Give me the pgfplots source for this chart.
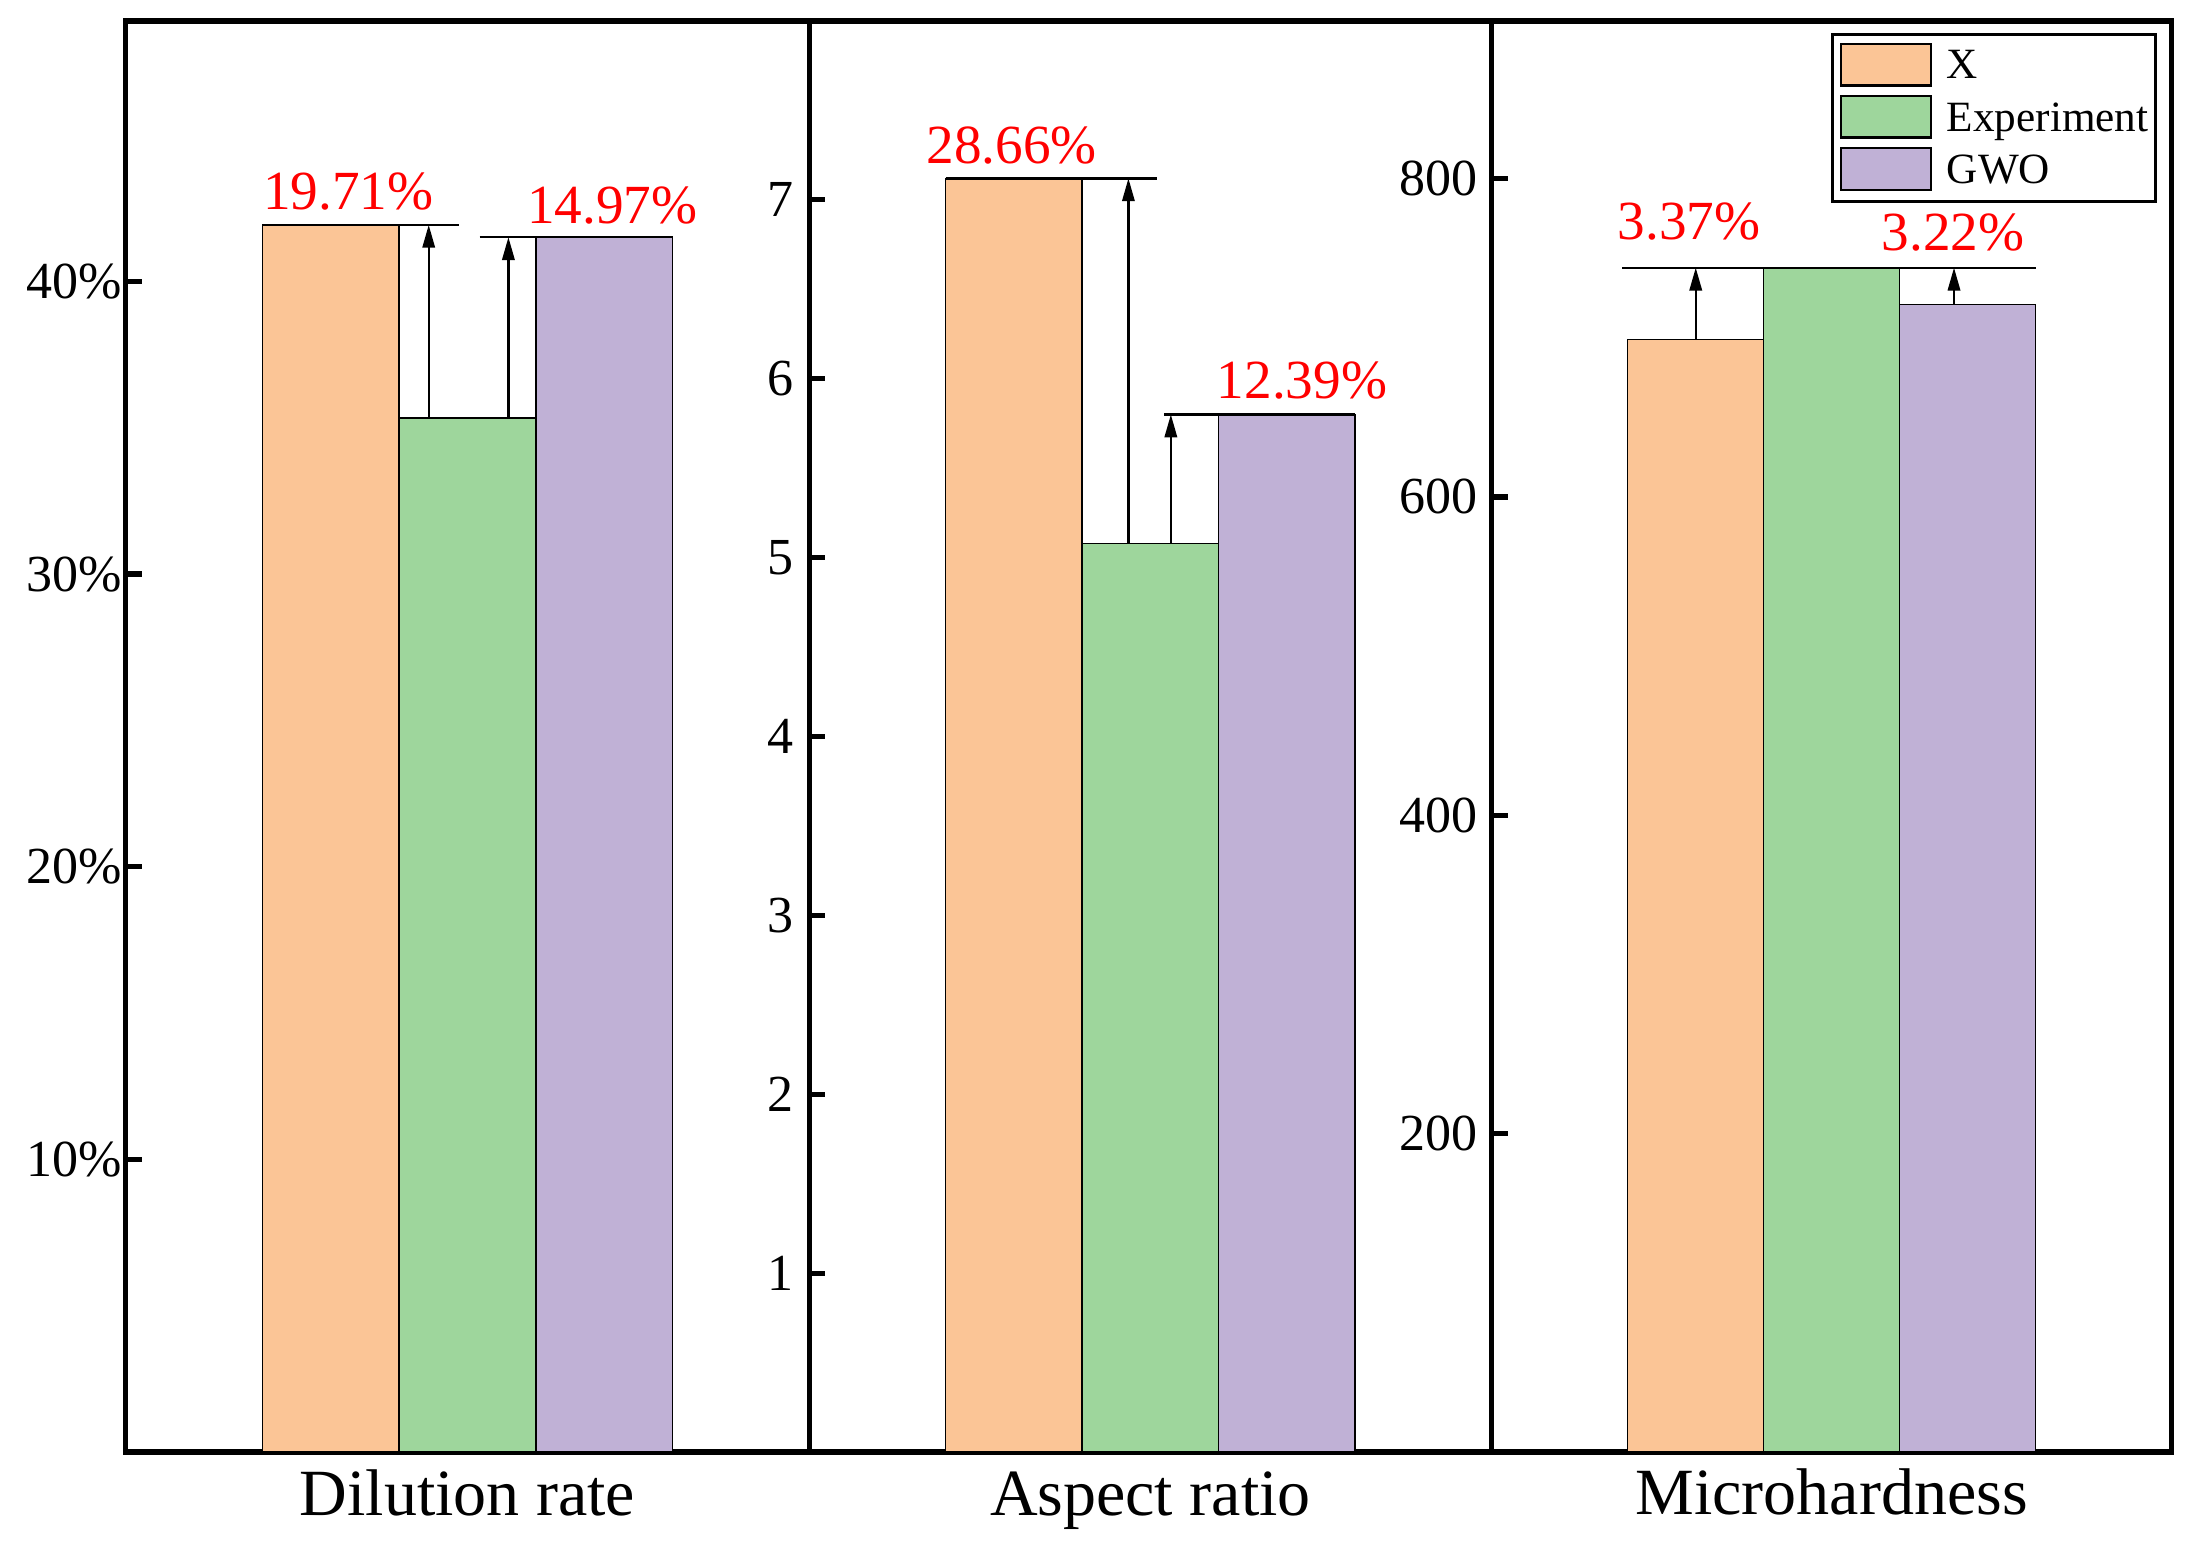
\documentclass[border=0pt]{standalone}
\usepackage{fontspec}
\setmainfont{Liberation Serif}
\usepackage{pgfplots}
\pgfplotsset{compat=1.18}
\usetikzlibrary{arrows.meta}
\definecolor{cX}{RGB}{251,197,150}
\definecolor{cE}{RGB}{158,214,156}
\definecolor{cG}{RGB}{192,177,214}
\tikzset{
  ann/.style={line width=0.55pt, black},
  arr/.style={line width=0.55pt, black, -{Triangle[length=5.7pt,width=3.1pt]}},
  lab/.style={anchor=base, text=red, font=\fontsize{13.8}{16}\selectfont, inner sep=0pt},
}
\pgfplotsset{
  panel/.style={
    scale only axis, height=357.75pt,
    xmin=-2.5, xmax=2.5, ymin=0,
    ybar, bar width=1, bar shift=0pt,
    xtick=\empty, ytick pos=left, tick align=inside,
    major tick length=4pt,
    tick style={line width=1.3pt, black},
    axis line style={line width=1.3pt},
    clip=false,
    /pgf/number format/assume math mode=true,
    yticklabel style={font=\fontsize{13}{15}\selectfont},
    xlabel style={font=\fontsize{16.5}{19}\selectfont, at={(axis description cs:0.5,0)}, anchor=base, yshift=-16pt},
    every axis plot/.append style={draw=black, line width=0.4pt},
  },
  sw/.style={legend image code/.code={\draw[##1, line width=0.6pt] (0pt,-1.65pt) rectangle (22.5pt,8.75pt);}},
}
\begin{document}
\begin{tikzpicture}
% Panel 1: Dilution rate
\begin{axis}[panel, at={(31.4pt,24.75pt)}, anchor=south west, width=170.9pt,
  ymax=48.9, ytick={10,20,30,40}, yticklabel={\pgfmathprintnumber{\tick}\%},
  yticklabel style={xshift=2.6pt},
  xlabel={Dilution rate}]
\addplot[fill=cX] coordinates {(-1,41.93)};
\addplot[fill=cE] coordinates {(0,35.33)};
\addplot[fill=cG] coordinates {(1,41.51)};
\draw[ann] (axis cs:-1.5,41.93) -- (axis cs:-0.061,41.93);
\draw[arr] (axis cs:-0.283,35.33) -- (axis cs:-0.283,41.93);
\draw[ann] (axis cs:0.089,41.51) -- (axis cs:1.5,41.51);
\draw[arr] (axis cs:0.300,35.33) -- (axis cs:0.300,41.51);
\node[lab] at (axis cs:-0.872,42.47) {19.71\%};
\node[lab] at (axis cs:1.059,41.98) {14.97\%};
\end{axis}
% Panel 2: Aspect ratio
\begin{axis}[panel, at={(202.3pt,24.75pt)}, anchor=south west, width=170.6pt,
  ymax=8, ytick={1,2,3,4,5,6,7},
  yticklabel style={xshift=-0.5pt},
  xlabel={Aspect ratio}]
\addplot[fill=cX] coordinates {(-1,7.12)};
\addplot[fill=cE] coordinates {(0,5.08)};
\addplot[fill=cG] coordinates {(1,5.80)};
\draw[ann] (axis cs:-1.5,7.12) -- (axis cs:0.052,7.12);
\draw[arr] (axis cs:-0.161,5.08) -- (axis cs:-0.161,7.12);
\draw[ann] (axis cs:0.101,5.80) -- (axis cs:1.5,5.80);
\draw[arr] (axis cs:0.150,5.08) -- (axis cs:0.150,5.80);
\node[lab] at (axis cs:-1.015,7.203) {28.66\%};
\node[lab] at (axis cs:1.111,5.892) {12.39\%};
\end{axis}
% Panel 3: Microhardness
\begin{axis}[panel, at={(372.9pt,24.75pt)}, anchor=south west, width=170.0pt,
  ymax=899, ytick={200,400,600,800},
  xlabel={Microhardness}, xlabel style={yshift=0.4pt},
  legend style={at={(1,1)}, anchor=north east, xshift=-3.6pt, yshift=-2.9pt,
    draw=black, line width=0.8pt, font=\fontsize{10.8}{12}\selectfont,
    inner xsep=1.8pt, inner ysep=2.1pt, row sep=1.6pt, column sep=3.6pt,
    nodes={inner sep=0pt, text depth=2.4pt, anchor=base west}},
  legend cell align=left]
\addplot[fill=cX, sw] coordinates {(-1,699)};
\addlegendentry{X}
\addplot[fill=cE, sw] coordinates {(0,744)};
\addlegendentry{Experiment}
\addplot[fill=cG, sw] coordinates {(1,721)};
\addlegendentry{GWO}
\draw[ann] (axis cs:-1.539,744) -- (axis cs:1.504,744);
\draw[arr] (axis cs:-0.999,699) -- (axis cs:-0.999,744);
\draw[arr] (axis cs:0.900,721) -- (axis cs:0.900,744);
\node[lab] at (axis cs:-1.048,762) {3.37\%};
\node[lab] at (axis cs:0.893,755) {3.22\%};
\end{axis}
\pgfresetboundingbox
\useasboundingbox (0,0) rectangle (551.25pt,387.75pt);
\end{tikzpicture}
\end{document}
